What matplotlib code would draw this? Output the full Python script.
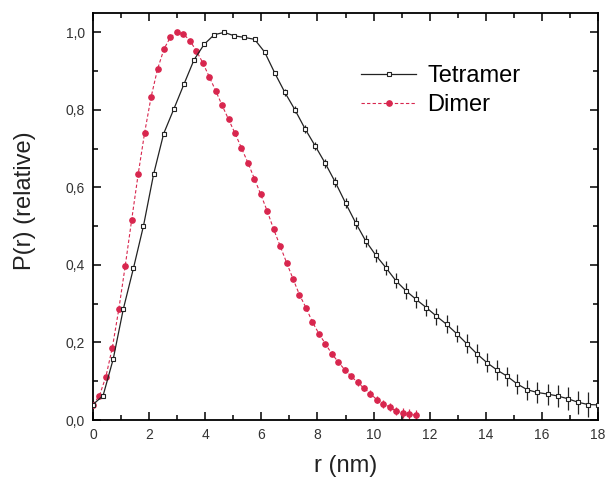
import matplotlib
matplotlib.use("Agg")
import matplotlib.pyplot as plt
from matplotlib.ticker import MultipleLocator, FuncFormatter

plt.rcParams['font.family'] = ['Liberation Sans', 'DejaVu Sans']

# Tetramer P(r), 51 points from 0 to 18 nm
r_tetramer = [0.0, 0.36, 0.72, 1.08, 1.44, 1.8, 2.16, 2.52, 2.88, 3.24,
              3.6, 3.96, 4.32, 4.68, 5.04, 5.4, 5.76, 6.12, 6.48, 6.84,
              7.2, 7.56, 7.92, 8.28, 8.64, 9.0, 9.36, 9.72, 10.08, 10.44,
              10.8, 11.16, 11.52, 11.88, 12.24, 12.6, 12.96, 13.32, 13.68, 14.04,
              14.4, 14.76, 15.12, 15.48, 15.84, 16.2, 16.56, 16.92, 17.28, 17.64,
              18.0]
p_tetramer = [0.040, 0.063, 0.157, 0.286, 0.391, 0.501, 0.634, 0.739, 0.802, 0.866,
              0.929, 0.969, 0.994, 1.000, 0.991, 0.987, 0.982, 0.949, 0.895, 0.845,
              0.800, 0.751, 0.707, 0.662, 0.613, 0.560, 0.509, 0.462, 0.425, 0.393,
              0.359, 0.333, 0.311, 0.290, 0.268, 0.247, 0.223, 0.197, 0.171, 0.148,
              0.129, 0.113, 0.093, 0.078, 0.071, 0.067, 0.062, 0.055, 0.046, 0.040,
              0.039]
err_tetramer = [0.003, 0.003, 0.003, 0.003, 0.003, 0.003, 0.003, 0.003, 0.003, 0.003,
                0.003, 0.003, 0.003, 0.004, 0.004, 0.004, 0.004, 0.005, 0.006, 0.008,
                0.009, 0.010, 0.011, 0.012, 0.013, 0.014, 0.015, 0.016, 0.017, 0.018,
                0.019, 0.020, 0.021, 0.022, 0.022, 0.023, 0.023, 0.024, 0.024, 0.025,
                0.025, 0.025, 0.026, 0.026, 0.027, 0.027, 0.028, 0.029, 0.030, 0.031,
                0.032]

# Dimer P(r), 51 points from 0 to 11.5 nm
r_dimer = [0.0, 0.23, 0.46, 0.69, 0.92, 1.15, 1.38, 1.61, 1.84, 2.07,
           2.3, 2.53, 2.76, 2.99, 3.22, 3.45, 3.68, 3.91, 4.14, 4.37,
           4.6, 4.83, 5.06, 5.29, 5.52, 5.75, 5.98, 6.21, 6.44, 6.67,
           6.9, 7.13, 7.36, 7.59, 7.82, 8.05, 8.28, 8.51, 8.74, 8.97,
           9.2, 9.43, 9.66, 9.89, 10.12, 10.35, 10.58, 10.81, 11.04, 11.27,
           11.5]
p_dimer = [0.040, 0.063, 0.112, 0.187, 0.286, 0.398, 0.517, 0.634, 0.741, 0.833,
           0.905, 0.957, 0.988, 1.000, 0.996, 0.979, 0.953, 0.922, 0.886, 0.850,
           0.812, 0.776, 0.740, 0.702, 0.664, 0.623, 0.582, 0.539, 0.492, 0.449,
           0.406, 0.364, 0.323, 0.290, 0.253, 0.223, 0.197, 0.171, 0.150, 0.130,
           0.113, 0.097, 0.082, 0.068, 0.052, 0.042, 0.033, 0.023, 0.018, 0.016,
           0.012]
err_dimer = [0.002, 0.002, 0.002, 0.002, 0.002, 0.002, 0.002, 0.002, 0.002, 0.002,
             0.002, 0.002, 0.002, 0.002, 0.002, 0.002, 0.002, 0.002, 0.002, 0.002,
             0.002, 0.002, 0.002, 0.002, 0.002, 0.002, 0.002, 0.003, 0.003, 0.003,
             0.003, 0.004, 0.004, 0.004, 0.005, 0.005, 0.005, 0.006, 0.006, 0.007,
             0.007, 0.008, 0.008, 0.009, 0.009, 0.010, 0.011, 0.011, 0.012, 0.013,
             0.014]

red = '#d8264e'

fig = plt.figure(figsize=(6.07, 4.78), dpi=100)
ax = fig.add_axes([0.1532, 0.1213, 0.832, 0.8515])

ax.errorbar(r_tetramer, p_tetramer, yerr=err_tetramer, fmt='none', ecolor='#222222',
            elinewidth=0.9, capsize=0, zorder=2)
ax.errorbar(r_dimer, p_dimer, yerr=err_dimer, fmt='none', ecolor=red,
            elinewidth=0.9, capsize=0, zorder=2)
l_dim, = ax.plot(r_dimer, p_dimer, color=red, lw=0.8, ls=(0, (3, 2)), marker='o',
                 ms=3.8, mfc=red, mec=red, zorder=3)
l_tet, = ax.plot(r_tetramer, p_tetramer, color='#222222', lw=0.9, marker='s',
                 ms=3.4, mfc='white', mec='#222222', mew=0.8, zorder=4)

ax.set_xlim(0, 18)
ax.set_ylim(0, 1.05)
ax.xaxis.set_major_locator(MultipleLocator(2))
ax.xaxis.set_minor_locator(MultipleLocator(1))
ax.yaxis.set_major_locator(MultipleLocator(0.2))
ax.yaxis.set_minor_locator(MultipleLocator(0.1))
ax.yaxis.set_major_formatter(FuncFormatter(lambda v, p: f"{v:.1f}".replace('.', ',')))
ax.tick_params(which='both', direction='in', top=True, right=True, width=1.1,
               labelsize=10, labelcolor='#333333')
ax.tick_params(which='major', length=6, pad=6)
ax.tick_params(which='minor', length=3.5)
for s in ax.spines.values():
    s.set_linewidth(1.3)

ax.set_xlabel("r (nm)", fontsize=17, color='#222222', labelpad=9)
ax.set_ylabel("P(r) (relative)", fontsize=17, color='#222222')
ax.yaxis.set_label_coords(-0.112, 0.54)

ax.legend([l_tet, l_dim], ["Tetramer", "Dimer"], loc='upper left',
          bbox_to_anchor=(361 / 607, 1 - 65 / 478), bbox_transform=fig.transFigure,
          frameon=False, fontsize=17, numpoints=1, handlelength=2.35,
          handletextpad=0.45, labelspacing=0.3, borderaxespad=0, borderpad=0)

fig.savefig("out.png", dpi=100)
